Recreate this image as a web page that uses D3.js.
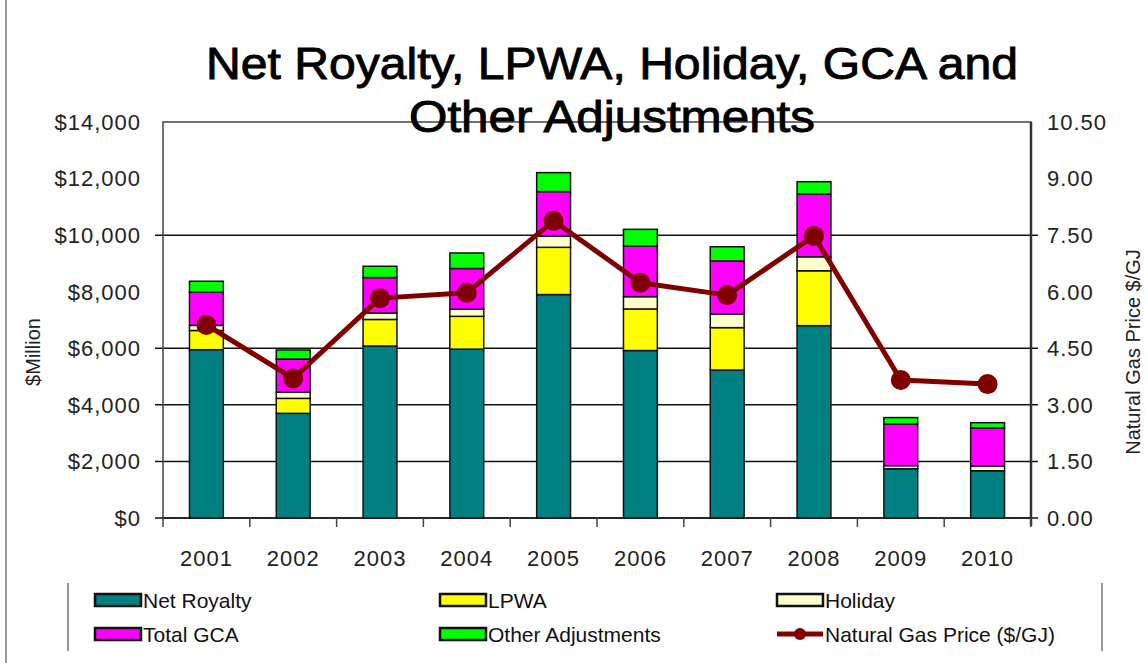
<!DOCTYPE html>
<html lang="en">
<head>
  <meta charset="UTF-8" />
  <title>Net Royalty, LPWA, Holiday, GCA and Other Adjustments</title>
  <script src="https://d3js.org/d3.v7.min.js"></script>
  <style>
    body { margin: 0; background: #fff; }
    svg { display: block; font-family: "Liberation Sans", Arial, sans-serif; }
  </style>
</head>
<body>
  <svg width="1148" height="663"></svg>
  <script>
    // data ($ million, gas price $/GJ)
    const years = ["2001", "2002", "2003", "2004", "2005", "2006", "2007", "2008", "2009", "2010"];
    const netRoyalty = [5950, 3700, 6080, 5970, 7900, 5920, 5230, 6800, 1740, 1670];
    const lpwa = [680, 530, 940, 1160, 1670, 1470, 1500, 1940, 0, 0];
    const holiday = [180, 220, 230, 250, 400, 435, 480, 495, 110, 170];
    const totalGca = [1170, 1170, 1250, 1440, 1570, 1790, 1880, 2220, 1470, 1350];
    const otherAdj = [390, 320, 400, 550, 670, 590, 500, 435, 230, 180];
    const gasPrice = [5.12, 3.70, 5.83, 5.97, 7.88, 6.24, 5.91, 7.48, 3.66, 3.55];

    const leftTicks = [0, 2000, 4000, 6000, 8000, 10000, 12000, 14000];
    const rightTicks = [0, 1.5, 3, 4.5, 6, 7.5, 9, 10.5];
    const gridValues = [2000, 4000, 6000, 10000];

    const keys = ["Net Royalty", "LPWA", "Holiday", "Total GCA", "Other Adjustments"];
    const colors = {
      "Net Royalty": "#008080",
      "LPWA": "#ffff00",
      "Holiday": "#ffffcc",
      "Total GCA": "#ff00ff",
      "Other Adjustments": "#00ff00"
    };
    const lineColor = "#800000";

    const rows = years.map((y, i) => ({
      year: y,
      "Net Royalty": netRoyalty[i],
      "LPWA": lpwa[i],
      "Holiday": holiday[i],
      "Total GCA": totalGca[i],
      "Other Adjustments": otherAdj[i],
      gas: gasPrice[i]
    }));

    const svg = d3.select("svg");
    const m = { left: 163, right: 1031, top: 122, bottom: 518 };

    const x = d3.scaleBand().domain(years).range([m.left, m.right])
      .paddingInner(0.61).paddingOuter(0.305);
    const y = d3.scaleLinear().domain([0, 14000]).range([m.bottom, m.top]);
    const y2 = d3.scaleLinear().domain([0, 10.5]).range([m.bottom, m.top]);

    // page edge line on the left
    svg.append("line").attr("x1", 6).attr("x2", 6).attr("y1", 0).attr("y2", 663)
      .attr("stroke", "#999").attr("stroke-width", 2);

    // gridlines (only some of them show in the original)
    svg.append("g").selectAll("line").data(gridValues).join("line")
      .attr("x1", m.left - 8).attr("x2", m.right + 7)
      .attr("y1", d => y(d)).attr("y2", d => y(d))
      .attr("stroke", "#111").attr("stroke-width", 1.5);

    // plot frame
    svg.append("rect")
      .attr("x", m.left).attr("y", m.top)
      .attr("width", m.right - m.left).attr("height", m.bottom - m.top)
      .attr("fill", "none").attr("stroke", "#444").attr("stroke-width", 1.5);
    svg.append("line").attr("x1", m.left - 8).attr("x2", m.right + 7)
      .attr("y1", m.bottom).attr("y2", m.bottom).attr("stroke", "#111").attr("stroke-width", 1.5);
    svg.append("line").attr("x1", m.right).attr("x2", m.right)
      .attr("y1", m.top).attr("y2", m.bottom + 8).attr("stroke", "#333").attr("stroke-width", 2.5);

    // x tick marks between categories
    const step = x.step();
    svg.append("g").selectAll("line").data(d3.range(years.length + 1)).join("line")
      .attr("x1", i => m.left + i * step).attr("x2", i => m.left + i * step)
      .attr("y1", m.bottom).attr("y2", m.bottom + 9)
      .attr("stroke", "#444").attr("stroke-width", 1.5);

    // stacked bars
    const series = d3.stack().keys(keys)(rows);
    svg.append("g").selectAll("g").data(series).join("g")
      .attr("fill", d => colors[d.key])
      .selectAll("rect").data(d => d.filter(s => s[1] - s[0] > 0)).join("rect")
      .attr("x", d => x(d.data.year))
      .attr("width", x.bandwidth())
      .attr("y", d => y(d[1]))
      .attr("height", d => y(d[0]) - y(d[1]))
      .attr("stroke", "#111").attr("stroke-width", 1.5);

    // gas price line
    const line = d3.line().x(d => x(d.year) + x.bandwidth() / 2).y(d => y2(d.gas));
    svg.append("path").datum(rows)
      .attr("d", line).attr("fill", "none")
      .attr("stroke", lineColor).attr("stroke-width", 5).attr("stroke-linejoin", "round");
    svg.append("g").selectAll("circle").data(rows).join("circle")
      .attr("cx", d => x(d.year) + x.bandwidth() / 2)
      .attr("cy", d => y2(d.gas))
      .attr("r", 10).attr("fill", lineColor);

    // left axis labels
    const fmt = d3.format("$,");
    svg.append("g").selectAll("text").data(leftTicks).join("text")
      .attr("x", 141).attr("y", d => y(d)).attr("dy", "0.36em")
      .attr("text-anchor", "end").attr("font-size", 22).attr("letter-spacing", 1)
      .attr("fill", "#222").text(d => fmt(d));

    // right axis labels
    svg.append("g").selectAll("text").data(rightTicks).join("text")
      .attr("x", 1047).attr("y", d => y2(d)).attr("dy", "0.36em")
      .attr("text-anchor", "start").attr("font-size", 22).attr("letter-spacing", 1)
      .attr("fill", "#222").text(d => d.toFixed(2));

    // x labels
    svg.append("g").selectAll("text").data(years).join("text")
      .attr("x", d => x(d) + x.bandwidth() / 2).attr("y", 566)
      .attr("text-anchor", "middle").attr("font-size", 22).attr("letter-spacing", 1)
      .attr("fill", "#222").text(d => d);

    // axis titles
    svg.append("text").attr("transform", "translate(40,352) rotate(-90)")
      .attr("text-anchor", "middle").attr("font-size", 20).attr("fill", "#222").text("$Million");
    svg.append("text").attr("transform", "translate(1140,352) rotate(-90)")
      .attr("text-anchor", "middle").attr("font-size", 20).attr("fill", "#222")
      .text("Natural Gas Price $/GJ");

    // title
    svg.append("text").attr("x", 612).attr("y", 79)
      .attr("text-anchor", "middle").attr("font-size", 44)
      .attr("stroke", "#000").attr("stroke-width", 0.9)
      .attr("textLength", 812).attr("lengthAdjust", "spacingAndGlyphs")
      .text("Net Royalty, LPWA, Holiday, GCA and");
    svg.append("text").attr("x", 612).attr("y", 132)
      .attr("text-anchor", "middle").attr("font-size", 44)
      .attr("stroke", "#000").attr("stroke-width", 0.9)
      .attr("textLength", 406).attr("lengthAdjust", "spacingAndGlyphs")
      .text("Other Adjustments");

    // legend
    const legendItems = [
      { name: "Net Royalty", col: 0, row: 0 },
      { name: "LPWA", col: 1, row: 0 },
      { name: "Holiday", col: 2, row: 0 },
      { name: "Total GCA", col: 0, row: 1 },
      { name: "Other Adjustments", col: 1, row: 1 },
      { name: "Natural Gas Price ($/GJ)", col: 2, row: 1, line: true }
    ];
    const colX = [95, 440, 777];
    const rowY = [600, 634];

    svg.append("line").attr("x1", 68).attr("x2", 68).attr("y1", 583).attr("y2", 651)
      .attr("stroke", "#999").attr("stroke-width", 2);
    svg.append("line").attr("x1", 1102).attr("x2", 1102).attr("y1", 583).attr("y2", 651)
      .attr("stroke", "#999").attr("stroke-width", 2);

    const lg = svg.append("g").selectAll("g").data(legendItems).join("g")
      .attr("transform", d => `translate(${colX[d.col]},${rowY[d.row]})`);
    lg.filter(d => !d.line).append("rect")
      .attr("x", 0).attr("y", -6).attr("width", 46).attr("height", 12)
      .attr("fill", d => colors[d.name]).attr("stroke", "#111").attr("stroke-width", 2.5);
    lg.filter(d => d.line).append("line")
      .attr("x1", 0).attr("x2", 46).attr("y1", 0).attr("y2", 0)
      .attr("stroke", lineColor).attr("stroke-width", 5);
    lg.filter(d => d.line).append("circle")
      .attr("cx", 23).attr("cy", 0).attr("r", 6).attr("fill", lineColor);
    lg.append("text").attr("x", 48).attr("y", 0).attr("dy", "0.36em")
      .attr("font-size", 21).attr("fill", "#111").text(d => d.name);
  </script>
</body>
</html>
